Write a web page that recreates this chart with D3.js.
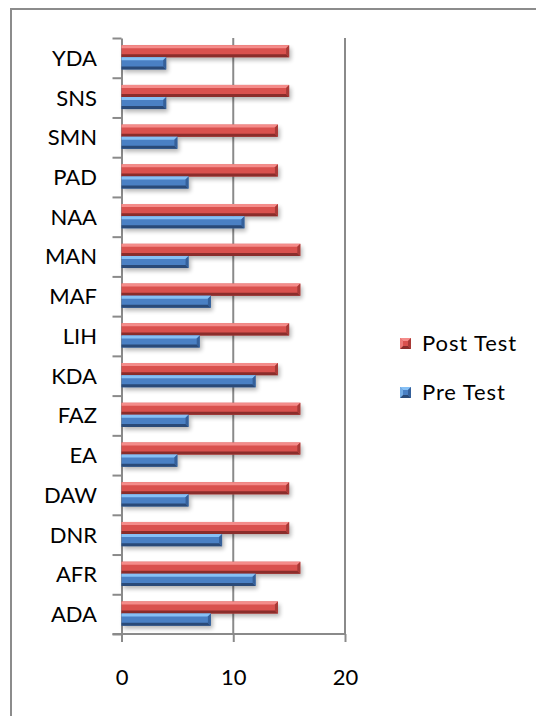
<!DOCTYPE html>
<html>
<head>
<meta charset="utf-8">
<script src="https://cdn.jsdelivr.net/npm/d3@7"></script>
<style>
  body { margin: 0; background: #fff; }
  svg { display: block; }
  .lbl { font-family: Lato, "Open Sans", sans-serif; font-size: 22px; fill: #000; }
</style>
</head>
<body>
<svg width="536" height="716"></svg>
<script>
var categories = ["ADA", "AFR", "DNR", "DAW", "EA", "FAZ", "KDA", "LIH", "MAF", "MAN", "NAA", "PAD", "SMN", "SNS", "YDA"];
var postTest = [14, 16, 15, 15, 16, 16, 14, 15, 16, 16, 14, 14, 14, 15, 15];
var preTest = [8, 12, 9, 6, 5, 6, 12, 7, 8, 6, 11, 6, 5, 4, 4];
var seriesNames = ["Post Test", "Pre Test"];
var xTicks = [0, 10, 20];

var svg = d3.select("svg");
var plot = { left: 121.5, right: 345, top: 38, bottom: 634 };

// colours: main, light (top bevel), dark (bottom bevel), end facet
var palette = {
  "Post Test": { main: "#d9514e", light: "#f48c8a", dark: "#8a2d2b", end: "#a83a37" },
  "Pre Test": { main: "#4a80c4", light: "#86c0f5", dark: "#2a4a78", end: "#35609a" }
};

var x = d3.scaleLinear().domain([0, 20]).range([plot.left, plot.right]);
var y = d3.scaleBand().domain(categories.slice().reverse()).range([plot.top, plot.bottom]);
var inner = d3.scaleBand().domain(seriesNames)
  .range([y.bandwidth() * 0.18, y.bandwidth() * 0.79]);

var defs = svg.append("defs");
defs.append("filter").attr("id", "shadow")
  .attr("x", "-10%").attr("y", "-50%").attr("width", "130%").attr("height", "250%")
  .append("feGaussianBlur").attr("stdDeviation", 2);

// outer frame (continues beyond the picture)
svg.append("path")
  .attr("d", "M11,730 L11,9 L550,9")
  .attr("fill", "none").attr("stroke", "#8c8c8c").attr("stroke-width", 2);

// gridlines
svg.append("g").selectAll("line")
  .data(xTicks.slice(1))
  .enter().append("line")
  .attr("x1", d => x(d)).attr("x2", d => x(d))
  .attr("y1", plot.top).attr("y2", plot.bottom)
  .attr("stroke", "#8a8a8a").attr("stroke-width", 2);

// x axis
var xAxis = svg.append("g")
  .attr("transform", "translate(0," + plot.bottom + ")")
  .call(d3.axisBottom(x).tickValues(xTicks).tickSize(8).tickSizeOuter(0));
xAxis.select(".domain").attr("stroke", "#8a8a8a").attr("stroke-width", 2)
  .attr("d", "M" + (plot.left - 9) + ",0H" + plot.right);
xAxis.selectAll(".tick line").attr("stroke", "#8a8a8a").attr("stroke-width", 2);
xAxis.selectAll(".tick text").attr("class", "lbl").attr("y", 0).attr("dy", 0)
  .attr("transform", "translate(0,51)").style("font-size", "22px");

// y axis: ticks on category boundaries
var yb = d3.scaleLinear().domain([0, categories.length]).range([plot.top, plot.bottom]);
var yAxis = svg.append("g")
  .attr("transform", "translate(" + plot.left + ",0)")
  .call(d3.axisLeft(yb).ticks(categories.length).tickFormat("").tickSize(9).tickSizeOuter(0));
yAxis.select(".domain").attr("stroke", "#8a8a8a").attr("stroke-width", 2);
yAxis.selectAll(".tick line").attr("stroke", "#8a8a8a").attr("stroke-width", 2);

// category labels
svg.append("g").selectAll("text")
  .data(categories)
  .enter().append("text")
  .attr("class", "lbl")
  .attr("x", 97)
  .attr("y", d => y(d) + y.bandwidth() / 2)
  .attr("dy", "0.36em")
  .attr("text-anchor", "end")
  .text(d => d);

// bars
var rows = categories.map(function(c, i) {
  return [
    { cat: c, s: "Post Test", v: postTest[i] },
    { cat: c, s: "Pre Test", v: preTest[i] }
  ];
});
var bars = [].concat.apply([], rows);

var b = 3;
var g = svg.append("g").selectAll("g")
  .data(bars)
  .enter().append("g")
  .attr("transform", d => "translate(0," + (y(d.cat) + inner(d.s)) + ")");

g.append("rect")
  .attr("x", x(0) + 2).attr("y", 3)
  .attr("width", d => x(d.v) - x(0))
  .attr("height", inner.bandwidth())
  .attr("fill", "#000").attr("opacity", 0.28)
  .attr("filter", "url(#shadow)");

g.append("rect")
  .attr("x", x(0)).attr("y", 0)
  .attr("width", d => x(d.v) - x(0))
  .attr("height", inner.bandwidth())
  .attr("fill", d => palette[d.s].main);

var h = inner.bandwidth();
g.append("polygon")
  .attr("points", d => [[x(0), 0], [x(d.v), 0], [x(d.v) - b, b], [x(0), b]].join(" "))
  .attr("fill", d => palette[d.s].light);
g.append("polygon")
  .attr("points", d => [[x(0), h - b], [x(d.v) - b, h - b], [x(d.v), h], [x(0), h]].join(" "))
  .attr("fill", d => palette[d.s].dark);
g.append("polygon")
  .attr("points", d => [[x(d.v), 0], [x(d.v), h], [x(d.v) - b, h - b], [x(d.v) - b, b]].join(" "))
  .attr("fill", d => palette[d.s].end);

// legend
var legend = svg.append("g").selectAll("g")
  .data(seriesNames)
  .enter().append("g")
  .attr("transform", (d, i) => "translate(400," + (338 + i * 49) + ")");

var sq = 11;
legend.append("rect").attr("width", sq).attr("height", sq)
  .attr("fill", d => palette[d].main);
legend.append("polygon")
  .attr("points", [[0, 0], [sq, 0], [sq - 3, 3], [3, 3]].join(" "))
  .attr("fill", d => palette[d].light);
legend.append("polygon")
  .attr("points", [[0, sq], [sq, sq], [sq - 3, sq - 3], [3, sq - 3]].join(" "))
  .attr("fill", d => palette[d].dark);
legend.append("polygon")
  .attr("points", [[0, 0], [3, 3], [3, sq - 3], [0, sq]].join(" "))
  .attr("fill", d => palette[d].light).attr("opacity", 0.7);
legend.append("polygon")
  .attr("points", [[sq, 0], [sq - 3, 3], [sq - 3, sq - 3], [sq, sq]].join(" "))
  .attr("fill", d => palette[d].end);
legend.append("text")
  .attr("class", "lbl")
  .attr("x", 22).attr("y", sq / 2).attr("dy", "0.36em")
  .style("letter-spacing", "0.9px")
  .text(d => d);
</script>
</body>
</html>
